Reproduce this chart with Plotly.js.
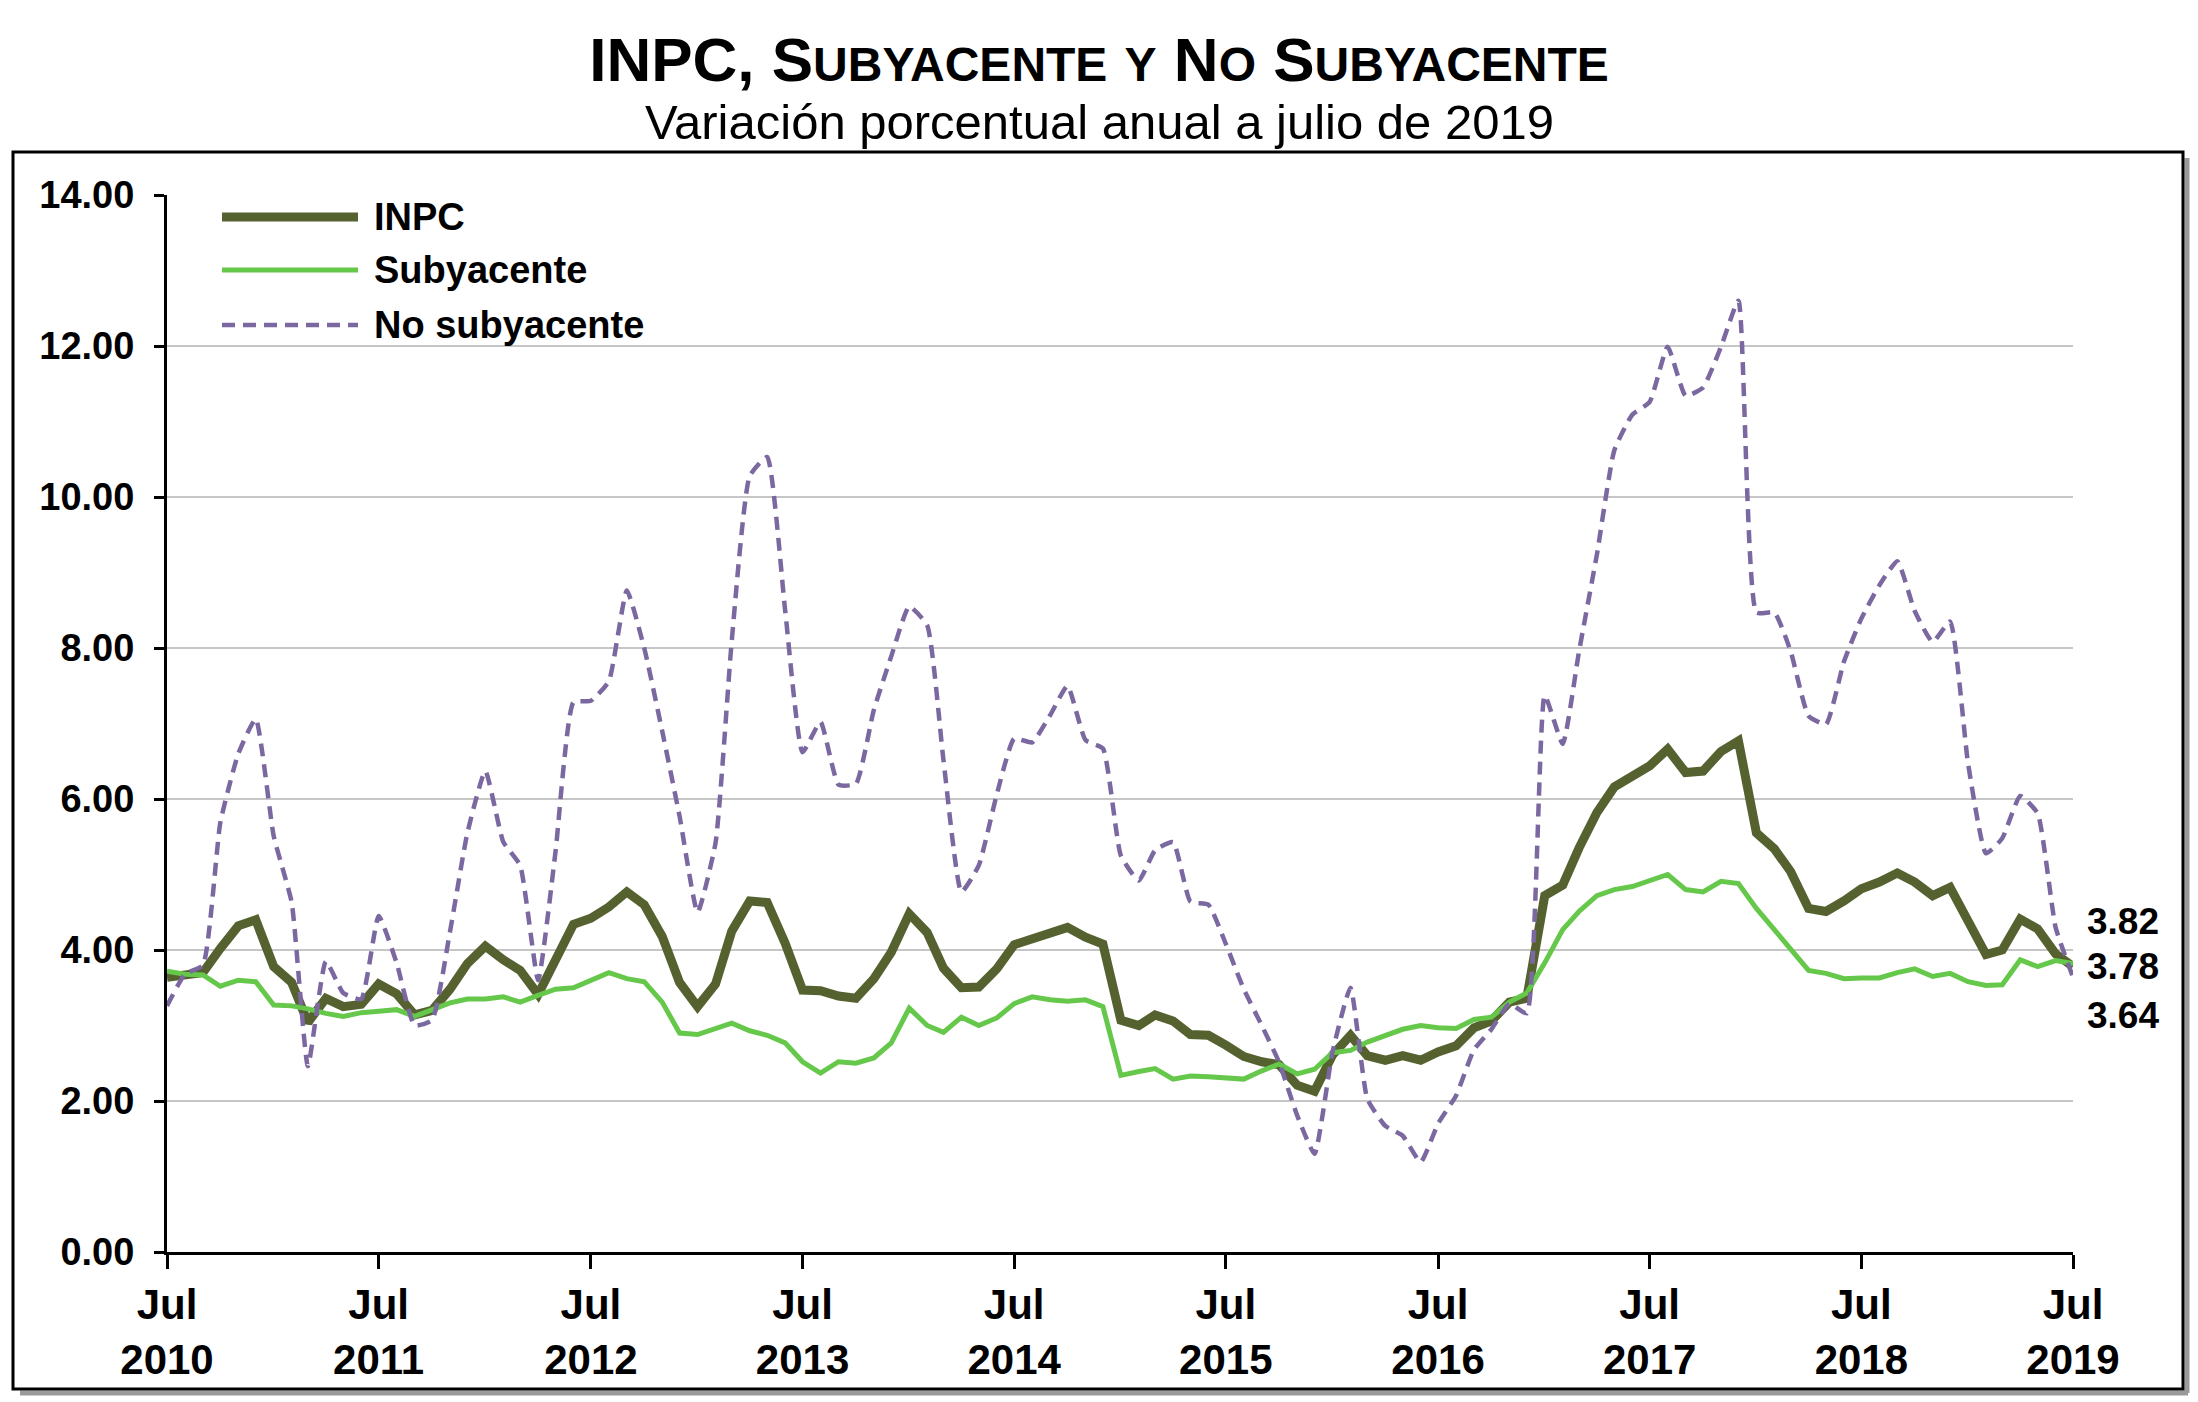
<!DOCTYPE html>
<html>
<head>
<meta charset="utf-8">
<script src="https://cdn.plot.ly/plotly-3.0.1.min.js"></script>
<style>
  html, body { margin: 0; padding: 0; background: #ffffff; }
  #chart { width: 2198px; height: 1402px; }
</style>
</head>
<body>
<div id="chart"></div>
<script>
// ---------------- DATA (annual % change, monthly, Jul 2010 .. Jul 2019) ----------------
const firstYear = 2010;
const firstMonth = 7;

const inpc = [
  3.64, 3.68, 3.70, 4.02, 4.32, 4.40, 3.78, 3.57, 3.04, 3.36, 3.25, 3.28,
  3.55, 3.42, 3.14, 3.20, 3.48, 3.82, 4.05, 3.87, 3.73, 3.41, 3.85, 4.34,
  4.42, 4.57, 4.77, 4.60, 4.18, 3.57, 3.25, 3.55, 4.25, 4.65, 4.63, 4.09,
  3.47, 3.46, 3.39, 3.36, 3.62, 3.97, 4.48, 4.23, 3.76, 3.50, 3.51, 3.75,
  4.07, 4.15, 4.22, 4.30, 4.17, 4.08, 3.07, 3.00, 3.14, 3.06, 2.88, 2.87,
  2.74, 2.59, 2.52, 2.48, 2.21, 2.13, 2.61, 2.87, 2.60, 2.54, 2.60, 2.54,
  2.65, 2.73, 2.97, 3.06, 3.31, 3.36, 4.72, 4.86, 5.35, 5.82, 6.16, 6.31,
  6.44, 6.66, 6.35, 6.37, 6.63, 6.77, 5.55, 5.34, 5.04, 4.55, 4.51, 4.65,
  4.81, 4.90, 5.02, 4.90, 4.72, 4.83, 4.37, 3.94, 4.00, 4.41, 4.28, 3.95,
  3.78
];

const subyacente = [
  3.72, 3.68, 3.67, 3.52, 3.60, 3.58, 3.27, 3.26, 3.22, 3.16, 3.12, 3.17,
  3.19, 3.21, 3.12, 3.20, 3.30, 3.35, 3.35, 3.38, 3.31, 3.40, 3.48, 3.50,
  3.60, 3.70, 3.62, 3.58, 3.31, 2.90, 2.88, 2.96, 3.03, 2.93, 2.87, 2.77,
  2.52, 2.37, 2.52, 2.50, 2.57, 2.77, 3.23, 3.00, 2.91, 3.11, 3.00, 3.10,
  3.29, 3.38, 3.34, 3.32, 3.34, 3.25, 2.34, 2.39, 2.43, 2.29, 2.33, 2.32,
  2.31, 2.29, 2.40, 2.49, 2.36, 2.42, 2.64, 2.67, 2.78, 2.86, 2.95, 3.00,
  2.97, 2.96, 3.08, 3.11, 3.31, 3.43, 3.83, 4.27, 4.51, 4.72, 4.80, 4.84,
  4.92, 5.00, 4.80, 4.77, 4.91, 4.88, 4.55, 4.27, 4.01, 3.73, 3.69, 3.62,
  3.63, 3.63, 3.70, 3.75, 3.65, 3.69, 3.58, 3.53, 3.54, 3.87, 3.78, 3.86,
  3.82
];

const noSubyacente = [
  3.26, 3.68, 3.80, 5.69, 6.60, 7.06, 5.51, 4.63, 2.46, 3.85, 3.43, 3.35,
  4.45, 3.83, 3.00, 3.07, 4.24, 5.55, 6.37, 5.43, 5.12, 3.60, 5.30, 7.28,
  7.30, 7.56, 8.76, 8.00, 6.90, 5.77, 4.50, 5.42, 8.10, 10.28, 10.53, 8.50,
  6.62, 7.02, 6.19, 6.20, 7.18, 7.89, 8.55, 8.30, 6.52, 4.77, 5.12, 6.06,
  6.80, 6.75, 7.11, 7.50, 6.78, 6.67, 5.25, 4.92, 5.32, 5.43, 4.64, 4.60,
  4.08, 3.48, 3.00, 2.51, 1.81, 1.30, 2.65, 3.50, 2.03, 1.67, 1.54, 1.19,
  1.70, 2.07, 2.68, 2.95, 3.29, 3.16, 7.37, 6.73, 7.95, 9.24, 10.62, 11.09,
  11.26, 11.99, 11.34, 11.45, 11.99, 12.60, 8.47, 8.47, 7.96, 7.10, 6.99, 7.82,
  8.39, 8.83, 9.15, 8.49, 8.08, 8.35, 6.47, 5.28, 5.48, 6.04, 5.81, 4.30,
  3.64
];

const seriesNames = ['INPC', 'Subyacente', 'No subyacente'];
const tickYears = [2010, 2011, 2012, 2013, 2014, 2015, 2016, 2017, 2018, 2019];
const tickMonthLabel = 'Jul';
const yTicks = [0, 2, 4, 6, 8, 10, 12, 14];

const titleText = 'INPC, SUBYACENTE Y NO SUBYACENTE';
const subtitleText = 'Variación porcentual anual a julio de 2019';

// ---------------- STYLE ----------------
const FONT = '"Liberation Sans", Arial, sans-serif';
const colors = ['#556230', '#66c84b', '#7b68a0'];
const widths = [9, 5, 4.5];
const DASH = '13px,8px';

// month dates
const dates = inpc.map((_, i) => {
  const m = firstMonth - 1 + i;
  const y = firstYear + Math.floor(m / 12);
  const mm = (m % 12) + 1;
  return y + '-' + String(mm).padStart(2, '0') + '-01';
});
const tickVals = tickYears.map(y => y + '-07-01');
const tickText = tickYears.map(y => '<b>' + tickMonthLabel + '<br>' + y + '</b>');

const traces = [
  { x: dates, y: inpc, name: seriesNames[0], type: 'scatter', mode: 'lines',
    line: { color: colors[0], width: widths[0] }, hoverinfo: 'skip' },
  { x: dates, y: subyacente, name: seriesNames[1], type: 'scatter', mode: 'lines',
    line: { color: colors[1], width: widths[1] }, hoverinfo: 'skip' },
  { x: dates, y: noSubyacente, name: seriesNames[2], type: 'scatter', mode: 'lines',
    line: { color: colors[2], width: widths[2], dash: DASH, shape: 'spline', smoothing: 0.45 },
    hoverinfo: 'skip' }
];

// small-caps title
function smallCaps(txt, small) {
  let out = '';
  txt.split(' ').forEach((word, wi) => {
    if (wi > 0) out += ' ';
    if (word === 'INPC,') { out += word; return; }
    if (word === 'Y') { out += `<span style="font-size:${small}px">Y</span>`; return; }
    out += word[0] + `<span style="font-size:${small}px">${word.slice(1)}</span>`;
  });
  return '<b>' + out + '</b>';
}

// plot-area pixel geometry -> paper helpers
const W = 2198, H = 1402;
const L = 167, R = 125, T = 195, B = 150;
const pw = W - L - R, ph = H - T - B;
const px2x = px => (px - L) / pw;
const py2y = py => (H - B - py) / ph;

const shapes = [];
// frame shadow
shapes.push({ type: 'line', xref: 'paper', yref: 'paper', layer: 'below',
  x0: px2x(20), x1: px2x(2188), y0: py2y(1393), y1: py2y(1393),
  line: { color: '#9a9a9a', width: 5 } });
shapes.push({ type: 'line', xref: 'paper', yref: 'paper', layer: 'below',
  x0: px2x(2187), x1: px2x(2187), y0: py2y(158), y1: py2y(1393),
  line: { color: '#9a9a9a', width: 5 } });
// frame
shapes.push({ type: 'rect', xref: 'paper', yref: 'paper', layer: 'below',
  x0: px2x(13), x1: px2x(2183), y0: py2y(152), y1: py2y(1389),
  line: { color: '#000000', width: 3 }, fillcolor: 'rgba(0,0,0,0)' });

// manual legend
const legendRowsPy = [217, 270, 325];
const annotations = [];
seriesNames.forEach((nm, i) => {
  shapes.push({ type: 'line', xref: 'paper', yref: 'paper',
    x0: px2x(222), x1: px2x(358), y0: py2y(legendRowsPy[i]), y1: py2y(legendRowsPy[i]),
    line: { color: colors[i], width: widths[i], dash: i === 2 ? DASH : 'solid' } });
  annotations.push({ xref: 'paper', yref: 'paper', x: px2x(372), y: py2y(legendRowsPy[i]),
    xanchor: 'left', yanchor: 'middle', showarrow: false,
    text: '<b>' + nm + '</b>', font: { family: FONT, size: 38, color: '#000' } });
});

// end-value labels
const lastIdx = inpc.length - 1;
const endSeries = [subyacente, inpc, noSubyacente];
const endShift = [42, 0, -38];
endSeries.forEach((s, i) => {
  annotations.push({ xref: 'paper', yref: 'y', x: 1, y: s[lastIdx], xshift: 12,
    yshift: endShift[i], xanchor: 'left', yanchor: 'middle', showarrow: false,
    text: '<b>' + s[lastIdx].toFixed(2) + '</b>', font: { family: FONT, size: 37, color: '#000' } });
});

// subtitle
annotations.push({ xref: 'paper', yref: 'paper', x: px2x(1099), y: py2y(122),
  xanchor: 'center', yanchor: 'middle', showarrow: false,
  text: subtitleText, font: { family: FONT, size: 49, color: '#000' } });

const layout = {
  width: W, height: H,
  margin: { l: L, r: R, t: T, b: B, pad: 0 },
  paper_bgcolor: '#ffffff',
  plot_bgcolor: 'rgba(0,0,0,0)',
  showlegend: false,
  title: {
    text: smallCaps(titleText, 48),
    font: { family: FONT, size: 62, color: '#000' },
    x: 0.5, xref: 'container', xanchor: 'center',
    y: 1 - 59 / H, yref: 'container', yanchor: 'middle'
  },
  xaxis: {
    type: 'date',
    range: [dates[0], dates[lastIdx]],
    tickmode: 'array', tickvals: tickVals, ticktext: tickText,
    ticks: 'outside', ticklen: 14, tickwidth: 3, tickcolor: '#000',
    showgrid: false, zeroline: false,
    showline: true, linewidth: 3, linecolor: '#000',
    tickfont: { family: FONT, size: 42, color: '#000' },
    ticklabelstandoff: 0,
    fixedrange: true
  },
  yaxis: {
    range: [0, 14],
    tickmode: 'array', tickvals: yTicks, ticktext: yTicks.map(v => '<b>' + v.toFixed(2) + '</b>'),
    ticks: 'outside', ticklen: 10, tickwidth: 3, tickcolor: '#000',
    showgrid: true, gridcolor: '#c6c6c6', gridwidth: 1.5,
    zeroline: false,
    showline: true, linewidth: 3, linecolor: '#000',
    tickfont: { family: FONT, size: 38, color: '#000' },
    ticklabelstandoff: 12,
    fixedrange: true
  },
  shapes: shapes,
  annotations: annotations
};

Plotly.newPlot('chart', traces, layout, { staticPlot: true, displayModeBar: false });
</script>
</body>
</html>
